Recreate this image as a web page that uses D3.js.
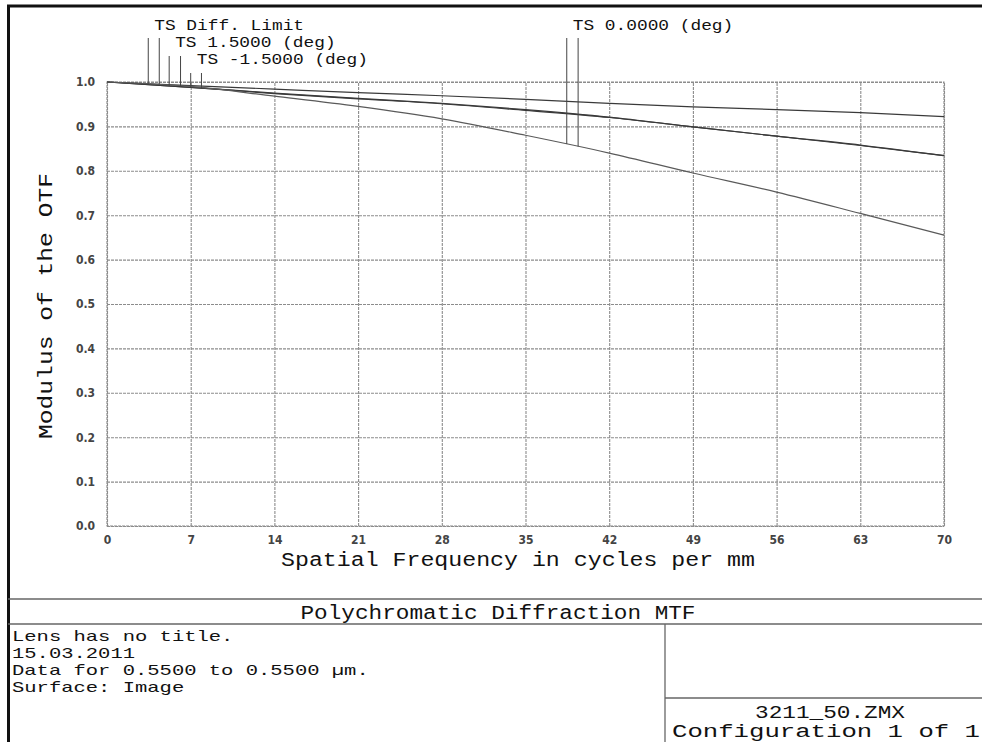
<!DOCTYPE html>
<html>
<head>
<meta charset="utf-8">
<script src="https://cdn.jsdelivr.net/npm/d3@7"></script>
<style>
  body { margin: 0; background: #fff; }
  svg text { font-family: "Liberation Mono", "Courier New", monospace; fill: #111; }
  .tick text { font-family: "DejaVu Sans Condensed", "Liberation Sans Narrow", sans-serif; font-weight: bold; font-size: 12px; fill: #444; }
</style>
</head>
<body>
<div id="chart"></div>
<script>
// MTF curves (spatial frequency in cycles per mm)
var freq      = [0, 7, 14, 21, 28, 35, 42, 49, 56, 63, 70];
var diffLimit = [1.0, 0.992, 0.984, 0.976, 0.969, 0.961, 0.952, 0.944, 0.938, 0.931, 0.922];
var field15   = [1.0, 0.988, 0.975, 0.963, 0.952, 0.938, 0.921, 0.899, 0.878, 0.858, 0.834];
var fieldM15  = [1.0, 0.988, 0.974, 0.962, 0.951, 0.936, 0.920, 0.899, 0.878, 0.857, 0.834];
var field0    = [1.0, 0.990, 0.968, 0.945, 0.917, 0.880, 0.840, 0.795, 0.752, 0.704, 0.655];

var xTicks = [0, 7, 14, 21, 28, 35, 42, 49, 56, 63, 70];
var yTicks = [0, 0.1, 0.2, 0.3, 0.4, 0.5, 0.6, 0.7, 0.8, 0.9, 1.0];

// legend labels and where their T / S leader lines touch the curves
var seriesNames = ["TS Diff. Limit", "TS 1.5000 (deg)", "TS -1.5000 (deg)", "TS 0.0000 (deg)"];
var markerT = [3.45, 5.2, 7.0, 38.45];
var markerS = [4.37, 6.15, 7.9, 39.4];

var infoLines = ["Lens has no title.", "15.03.2011", "Data for 0.5500 to 0.5500 \u00b5m.", "Surface: Image"];
var fileLines = ["3211_50.ZMX", "Configuration 1 of 1"];
var chartTitle = "Polychromatic Diffraction MTF";

var svgWidth = 982;
var svgHeight = 742;

var margin = { top: 82, left: 107 };
var width = 837;
var height = 444;

var svg = d3.select("#chart")
  .append("svg")
  .attr("width", svgWidth)
  .attr("height", svgHeight)
  .style("display", "block");

svg.append("rect")
  .attr("width", svgWidth)
  .attr("height", svgHeight)
  .attr("fill", "#fff");

var chartGroup = svg.append("g")
  .attr("transform", `translate(${margin.left}, ${margin.top})`);

var xScale = d3.scaleLinear().domain([0, 70]).range([0, width]);
var yScale = d3.scaleLinear().domain([0, 1]).range([height, 0]);

// grid via axes
var bottomAxis = d3.axisBottom(xScale)
  .tickValues(xTicks)
  .tickFormat(d3.format("d"))
  .tickSizeInner(-height)
  .tickSizeOuter(0)
  .tickPadding(9);

var leftAxis = d3.axisLeft(yScale)
  .tickValues(yTicks)
  .tickFormat(d3.format(".1f"))
  .tickSizeInner(-width)
  .tickSizeOuter(0)
  .tickPadding(12);

var xAxis = chartGroup.append("g")
  .attr("transform", `translate(0, ${height})`)
  .call(bottomAxis);

var yAxis = chartGroup.append("g")
  .call(leftAxis);

[xAxis, yAxis].forEach(function(ax) {
  ax.select(".domain").remove();
  ax.selectAll(".tick line")
    .attr("stroke", "#8c8c8c")
    .attr("stroke-width", 1.1)
    .attr("stroke-dasharray", "3,1");
});

// plot frame
chartGroup.append("rect")
  .attr("width", width)
  .attr("height", height)
  .attr("fill", "none")
  .attr("stroke", "#8c8c8c")
  .attr("stroke-width", 1.1)
  .attr("stroke-dasharray", "3,1");

// curves
var curves = [
  { values: diffLimit, color: "#3a3a3a" },
  { values: field15, color: "#3a3a3a" },
  { values: fieldM15, color: "#3a3a3a" },
  { values: field0, color: "#5a5a5a" }
];

var line = d3.line()
  .x(function(d) { return xScale(d[0]); })
  .y(function(d) { return yScale(d[1]); })
  .curve(d3.curveMonotoneX);

chartGroup.selectAll(".mtf")
  .data(curves)
  .enter()
  .append("path")
  .attr("class", "mtf")
  .attr("fill", "none")
  .attr("stroke", d => d.color)
  .attr("stroke-width", 1.2)
  .attr("d", d => line(freq.map((f, i) => [f, d.values[i]])));

// leader lines and legend labels
var labelBaseline = [30, 47, 64, 30];
var leaderTop = [38, 56, 73, 38];

seriesNames.forEach(function(name, i) {
  var interp = d3.scaleLinear().domain(freq).range(curves[i].values);
  [markerT[i], markerS[i]].forEach(function(f) {
    svg.append("line")
      .attr("x1", margin.left + xScale(f))
      .attr("x2", margin.left + xScale(f))
      .attr("y1", leaderTop[i])
      .attr("y2", margin.top + yScale(interp(f)))
      .attr("stroke", "#444")
      .attr("stroke-width", 1);
  });
  svg.append("text")
    .attr("x", margin.left + xScale(markerT[i]) + 6)
    .attr("y", labelBaseline[i])
    .attr("font-size", "15px")
    .attr("textLength", name.length * 10.7)
    .attr("lengthAdjust", "spacingAndGlyphs")
    .text(name);
});

// axis titles
svg.append("text")
  .attr("x", 518)
  .attr("y", 566)
  .attr("text-anchor", "middle")
  .attr("font-size", "20px")
  .attr("textLength", 474)
  .attr("lengthAdjust", "spacingAndGlyphs")
  .text("Spatial Frequency in cycles per mm");

svg.append("text")
  .attr("transform", "translate(52, 306) rotate(-90)")
  .attr("text-anchor", "middle")
  .attr("font-size", "21px")
  .attr("textLength", 266)
  .attr("lengthAdjust", "spacingAndGlyphs")
  .text("Modulus of the OTF");

// page frame
svg.append("line")
  .attr("x1", 7).attr("x2", svgWidth)
  .attr("y1", 6).attr("y2", 6)
  .attr("stroke", "#111").attr("stroke-width", 3);

svg.append("line")
  .attr("x1", 8.5).attr("x2", 8.5)
  .attr("y1", 5).attr("y2", svgHeight)
  .attr("stroke", "#111").attr("stroke-width", 3);

// info box
var boxStroke = "#666";
svg.append("line")
  .attr("x1", 8).attr("x2", svgWidth).attr("y1", 599).attr("y2", 599)
  .attr("stroke", boxStroke).attr("stroke-width", 1.3);
svg.append("line")
  .attr("x1", 8).attr("x2", svgWidth).attr("y1", 624).attr("y2", 624)
  .attr("stroke", boxStroke).attr("stroke-width", 1.3);
svg.append("line")
  .attr("x1", 665).attr("x2", 665).attr("y1", 624).attr("y2", svgHeight)
  .attr("stroke", boxStroke).attr("stroke-width", 1.3);
svg.append("line")
  .attr("x1", 665).attr("x2", svgWidth).attr("y1", 698).attr("y2", 698)
  .attr("stroke", boxStroke).attr("stroke-width", 1.3);

svg.append("text")
  .attr("x", 498)
  .attr("y", 619)
  .attr("text-anchor", "middle")
  .attr("font-size", "20px")
  .attr("textLength", 395)
  .attr("lengthAdjust", "spacingAndGlyphs")
  .text(chartTitle);

svg.selectAll(".info")
  .data(infoLines)
  .enter()
  .append("text")
  .attr("class", "info")
  .attr("x", 12)
  .attr("y", (d, i) => 641 + i * 17)
  .attr("font-size", "15px")
  .attr("textLength", d => d.length * 12.3)
  .attr("lengthAdjust", "spacingAndGlyphs")
  .text(d => d);

svg.append("text")
  .attr("x", 830)
  .attr("y", 718)
  .attr("text-anchor", "middle")
  .attr("font-size", "18px")
  .attr("textLength", 150)
  .attr("lengthAdjust", "spacingAndGlyphs")
  .text(fileLines[0]);

svg.append("text")
  .attr("x", 672)
  .attr("y", 737)
  .attr("font-size", "18px")
  .attr("textLength", 308)
  .attr("lengthAdjust", "spacingAndGlyphs")
  .text(fileLines[1]);
</script>
</body>
</html>
